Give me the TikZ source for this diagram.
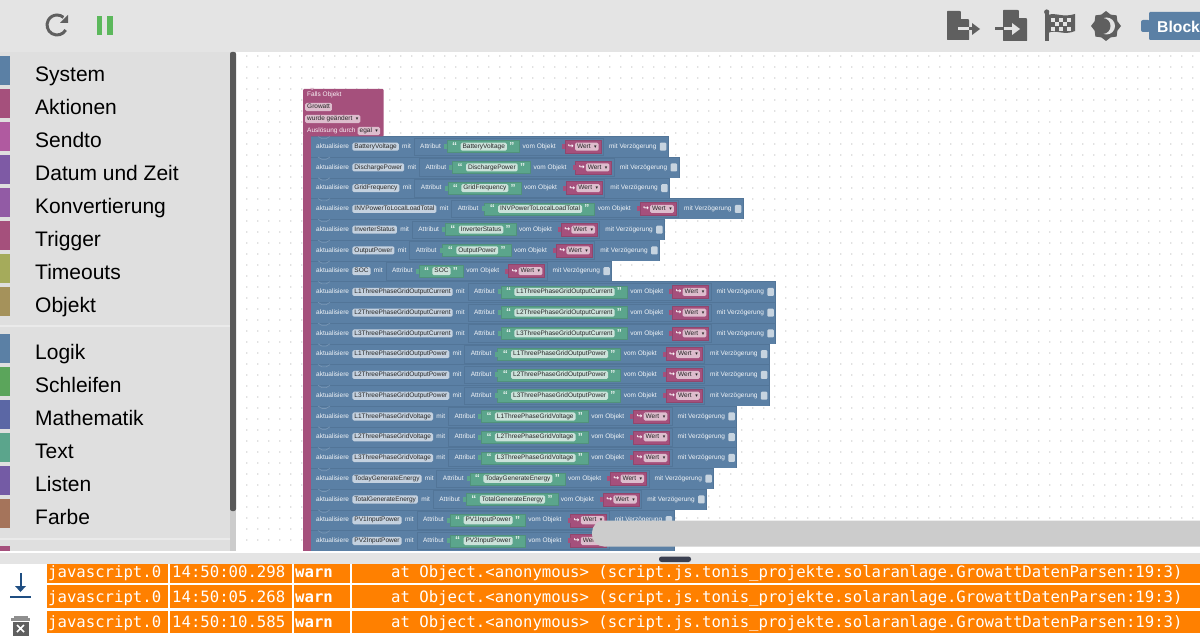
\documentclass[tikz,border=0pt]{standalone}
\usepackage{fontspec}
\setmainfont{Liberation Sans}
\newfontfamily\symfont{DejaVu Sans}
\newfontfamily\logfont{DejaVu Sans Mono}
\usetikzlibrary{positioning,calc,shapes.geometric}

\definecolor{barGray}{HTML}{E4E4E4}
\definecolor{sideGray}{HTML}{DFDFDF}
\definecolor{iconGray}{HTML}{5F5F5F}
\definecolor{blkBlue}{HTML}{5B80A5}
\definecolor{blkLine}{HTML}{527598}
\definecolor{blkMag}{HTML}{A5507C}
\definecolor{blkGreen}{HTML}{5BA58C}
\definecolor{logOrange}{HTML}{FF8000}
\definecolor{pauseGreen}{HTML}{5CB85C}
\definecolor{handleDark}{HTML}{3A3F50}
\definecolor{dlBlue}{HTML}{1F4E82}

\pgfdeclarelayer{wslay}
\pgfdeclarelayer{rowlay}
\pgfdeclarelayer{blklay}
\pgfdeclarelayer{toplay}
\pgfsetlayers{wslay,rowlay,blklay,main,toplay}

\newcommand{\ddmark}{\hspace{3.5pt}{\symfont\fontsize{5}{5}\selectfont ▾}\hspace{1pt}}

\tikzset{
	blkfont/.style={font=\fontsize{6.5}{7}\selectfont,text height=4.7pt,text depth=1.4pt},
	rowtext/.style={inner sep=0pt,text=white!92!blkBlue,blkfont},
	namebox/.style={rounded corners=1.5pt,fill=white!64!blkBlue,inner xsep=2pt,inner ysep=1pt,text=black!85,blkfont},
	quotetext/.style={inner sep=0pt,text=white!85!blkGreen,font=\bfseries\fontsize{10}{10}\selectfont,text height=6pt,text depth=0pt},
	wertbox/.style={rounded corners=1.5pt,fill=white!62!blkMag,inner xsep=2pt,inner ysep=1pt,text=black!85,blkfont},
	chkbox/.style={rounded corners=1pt,fill=white!66!blkBlue,minimum width=6.5pt,minimum height=8pt,inner sep=0pt},
	sidetext/.style={anchor=base west,inner sep=0pt,font=\fontsize{21}{24}\selectfont,text=black},
	logcell/.style={anchor=base west,inner sep=0pt,text=white,font=\logfont\fontsize{15.65}{18}\selectfont},
	headtext/.style={anchor=west,inner sep=0pt,text=white!92!blkMag,blkfont},
}

% one row of the block stack
\newcommand{\blockrow}[3]{
	\node[rowtext,anchor=west] (akt#1) at (316,#2) {aktualisiere};
	\node[namebox,right=3pt of akt#1] (nam#1) {#3};
	\node[rowtext,right=3pt of nam#1] (mit#1) {mit};
	\node[rowtext,right=9pt of mit#1] (atr#1) {Attribut};
	\node[quotetext,right=11pt of atr#1] (qa#1) {“};
	\node[namebox,fill=white!68!blkGreen,right=3pt of qa#1] (str#1) {#3};
	\node[quotetext,right=2pt of str#1] (qb#1) {”};
	\node[rowtext,right=8pt of qb#1] (vom#1) {vom Objekt};
	\node[inner sep=0pt,text=white,font=\symfont\bfseries\fontsize{7}{7}\selectfont,right=12pt of vom#1] (pfe#1) {↪};
	\node[wertbox,right=.8pt of pfe#1] (wrt#1) {Wert\ddmark};
	\node[rowtext,right=10pt of wrt#1] (vzg#1) {mit Verzögerung};
	\node[chkbox,right=3pt of vzg#1] (chk#1) {};
	\begin{pgfonlayer}{rowlay}
		\fill[blkBlue] ($(chk#1.east)+(1.5,-10.4)$) rectangle (311,#2+10.4);
		\draw[blkLine,line width=.5pt] (311,#2-10.4) -| ($(chk#1.east)+(1.5,10.4)$);
		\draw[white!18!blkBlue,line width=.6pt] (318,#2-10.4) -- (322,#2-8) -- (326,#2-8) -- (330,#2-10.4);
	\end{pgfonlayer}
	\begin{pgfonlayer}{blklay}
		\draw[blkLine,line width=.6pt] ($(atr#1.west)+(-6,-8.8)$) rectangle ($(wrt#1.east)+(4.5,8.8)$);
		\draw[blkGreen!88!black,line width=.4pt,fill=blkGreen] ($(qa#1.west)+(-5,-6)$) rectangle ($(qb#1.east)+(5,6)$);
		\fill[blkGreen] ($(qa#1.west)+(-8,-2.5)$) rectangle ($(qa#1.west)+(-5,2.5)$);
		\draw[blkMag!88!black,line width=.4pt,fill=blkMag] ($(pfe#1.west)+(-3,-6.5)$) rectangle ($(wrt#1.east)+(2,6.5)$);
		\fill[blkMag] ($(pfe#1.west)+(-6,-2.5)$) rectangle ($(pfe#1.west)+(-3,2.5)$);
	\end{pgfonlayer}
}

\begin{document}
\begin{tikzpicture}[x=1pt,y=-1pt]
	\useasboundingbox (0,0) rectangle (1200,636);
	% page areas
	\fill[barGray] (0,0) rectangle (1200,52);
	\fill[sideGray] (0,52) rectangle (236,552);
	\fill[black!20] (230,52) rectangle (236,552);
	\fill[black!65,rounded corners=2pt] (230,52) rectangle (236,511);
	\fill[white!35!sideGray] (0,325.5) rectangle (230,327);
	\fill[white!35!sideGray] (0,538) rectangle (230,539.5);
	%
	\begin{pgfonlayer}{wslay}
		\fill[white] (236,52) rectangle (1200,552);
		\fill[black!18] \foreach \a in {0,...,86} { \foreach \b in {0,...,44} {
			(246+11*\a,55.3+11*\b) rectangle +(1.3,1.3) } };
	\end{pgfonlayer}
	% toolbox
	\foreach \ty/\tcol/\tname [count=\n] in {
		74/5B80A5/System,107/A5507C/Aktionen,140/B05AA0/Sendto,173/7E5AA5/Datum und Zeit,
		206/925BA5/Konvertierung,239/A5507C/Trigger,272/A5AB5B/Timeouts,305/A5925B/Objekt,
		352/5B80A5/Logik,385/5BA55B/Schleifen,418/5B67A5/Mathematik,451/5BA58C/Text,
		484/745BA5/Listen,517/A5745B/Farbe} {
		\definecolor{swcol}{HTML}{\tcol}
		\fill[swcol] (0,\ty-18) rectangle (9.7,\ty+11);
		\node[sidetext] (side\n) at (35,\ty+7.7) {\tname};
	}
	\fill[blkMag] (0,546) rectangle (9.7,552);
	% top bar icons
	\draw[iconGray,line width=3pt] (65.7,30) arc[start angle=-30,end angle=-310,radius=10pt];
	\fill[iconGray] (68,15) -- (68,23) -- (60,23) -- cycle;
	\fill[pauseGreen] (97,16) rectangle (102,35);
	\fill[pauseGreen] (107,16) rectangle (113,35);
	%
	\fill[iconGray,rounded corners=.5pt] (947,11) -- (960,11) -- (969,20) -- (969,40) -- (947,40) -- cycle;
	\fill[barGray] (961,11) -- (969,19) -- (961,19) -- cycle;
	\fill[barGray] (958,27.5) rectangle (972,30.5);
	\fill[iconGray] (969,27.5) rectangle (973,30.5);
	\fill[iconGray] (972,23) -- (980,29) -- (972,35) -- cycle;
	%
	\fill[iconGray,rounded corners=.5pt] (1003,10) -- (1018,10) -- (1027,19) -- (1027,41) -- (1003,41) -- cycle;
	\fill[barGray] (1019,10) -- (1027,18) -- (1019,18) -- cycle;
	\fill[iconGray] (995,27.5) rectangle (1004,30.5);
	\fill[barGray] (1004,27.5) rectangle (1013,30.5);
	\fill[barGray] (1012,23) -- (1020,29) -- (1012,35) -- cycle;
	%
	\fill[iconGray] (1045,12) rectangle (1048.5,41);
	\fill[iconGray] (1046.7,12) circle[radius=2.6pt];
	\fill[iconGray] (1048,15) .. controls (1056,12) and (1062,18) .. (1075,14) -- (1075,31) .. controls (1064,36) and (1056,29) .. (1048,33) -- cycle;
	\foreach \cx/\cy in {1051/18,1059/18,1067/18,1055/22.5,1063/22.5,1051/27,1059/27,1067/27}
		\fill[barGray] (\cx,\cy) rectangle +(4,4);
	%
	\node[star,star points=8,star point ratio=1.22,fill=iconGray,minimum size=30pt,inner sep=0pt] (gear) at (1106,26) {};
	\fill[barGray] (1106.5,26) circle[radius=8.5pt];
	\fill[iconGray] (1102.5,26) circle[radius=8pt];
	%
	\fill[blkBlue,rounded corners=1pt] (1149,12) rectangle (1210,40);
	\fill[blkBlue,rounded corners=2pt] (1141,20) rectangle (1150,32);
	\node[anchor=west,inner sep=0pt,text=white,font=\bfseries\fontsize{15.7}{18}\selectfont] (tab) at (1157,26.5) {Block};
	% head of the script
	\fill[blkMag,rounded corners=1pt] (303,89) rectangle (383.5,136.5);
	\fill[blkMag] (303,136) rectangle (311,552);
	\fill[white!60!blkMag] (310,88) -- (312,90) -- (314,88) -- cycle;
	\node[headtext] (falls) at (307,94.7) {Falls Objekt};
	\node[wertbox,anchor=west] (obj) at (305,107) {Growatt};
	\node[wertbox,anchor=west] (chg) at (305,119) {wurde geändert\ddmark};
	\node[headtext] (ausl) at (307,131) {Auslösung durch};
	\node[wertbox,anchor=west] (egal) at (357.5,131) {egal\ddmark};
	% stack of rows
	\foreach \rname [count=\r from 0] in {BatteryVoltage,DischargePower,GridFrequency,INVPowerToLocalLoadTotal,
		InverterStatus,OutputPower,SOC,L1ThreePhaseGridOutputCurrent,L2ThreePhaseGridOutputCurrent,
		L3ThreePhaseGridOutputCurrent,L1ThreePhaseGridOutputPower,L2ThreePhaseGridOutputPower,
		L3ThreePhaseGridOutputPower,L1ThreePhaseGridVoltage,L2ThreePhaseGridVoltage,L3ThreePhaseGridVoltage,
		TodayGenerateEnergy,TotalGenerateEnergy,PV1InputPower,PV2InputPower} {
		\pgfmathsetmacro{\rowy}{146.7+20.75*\r}
		\blockrow{\r}{\rowy}{\rname}
	}
	% bottom panel
	\begin{pgfonlayer}{toplay}
		\fill[black!20,rounded corners=12pt] (592,520.5) rectangle (1230,546.5);
		\fill[white] (0,550.5) rectangle (1200,553);
		\fill[barGray] (0,553) rectangle (1200,564);
		\fill[handleDark,rounded corners=2.5pt] (659,556.5) rectangle (691,562);
		\fill[white] (0,564) rectangle (1200,636);
		\foreach \ly/\lh/\lb/\ltime [count=\m] in {564/19/577.3/14:50:00.298,585.3/23/602.3/14:50:05.268,610.7/22.6/627.3/14:50:10.585} {
			\fill[logOrange] (47,\ly) rectangle (168,\ly+\lh);
			\fill[logOrange] (170,\ly) rectangle (292,\ly+\lh);
			\fill[logOrange] (294,\ly) rectangle (350,\ly+\lh);
			\fill[logOrange] (352,\ly) rectangle (1200,\ly+\lh);
			\node[logcell] (lsrc\m) at (48,\lb) {javascript.0};
			\node[logcell] (ltim\m) at (172,\lb) {\ltime};
			\node[logcell,font=\logfont\bfseries\fontsize{15.65}{18}\selectfont] (llev\m) at (295,\lb) {warn};
			\node[logcell] (lmsg\m) at (391,\lb) {at Object.<anonymous> (script.js.tonis\_projekte.solaranlage.GrowattDatenParsen:19:3)};
		}
		% panel icons
		\fill[dlBlue] (10,595.5) rectangle (31,598);
		\fill[dlBlue] (19.5,573) rectangle (21.5,588);
		\fill[dlBlue] (15,586) -- (26,586) -- (20.5,592) -- cycle;
		\fill[iconGray!70] (14,616) rectangle (28,618);
		\fill[iconGray!70] (11,618) rectangle (30,621);
		\fill[iconGray] (12.5,622) rectangle (28.5,636);
		\draw[white,line width=1.6pt] (17,625) -- (24,632) (24,625) -- (17,632);
	\end{pgfonlayer}
\end{tikzpicture}
\end{document}
